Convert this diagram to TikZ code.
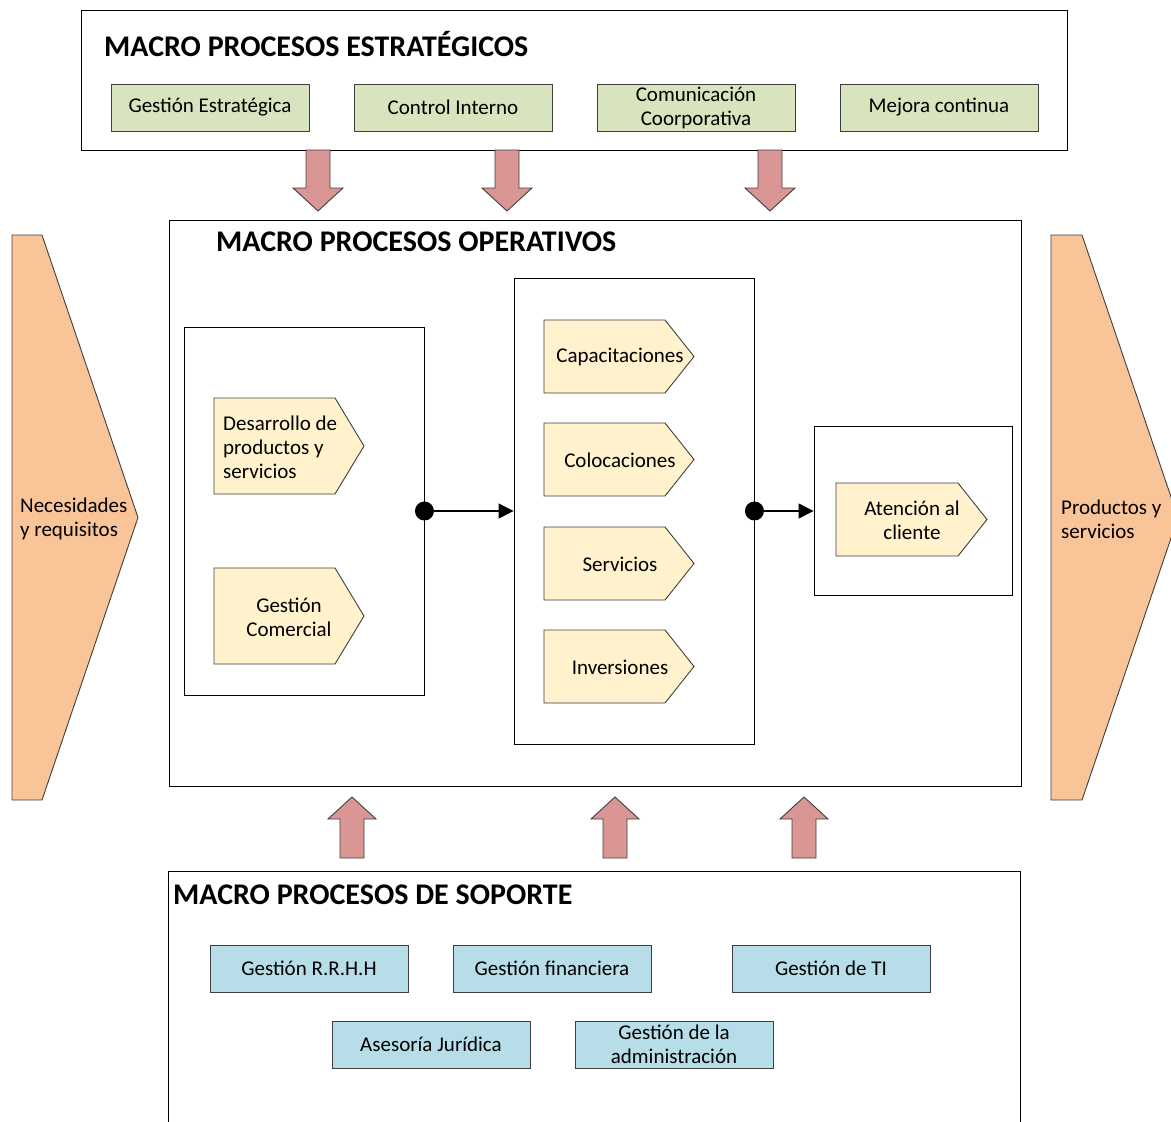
\documentclass[tikz,border=0pt]{standalone}
\usepackage{fontspec}
\setmainfont{Carlito}
\usetikzlibrary{arrows.meta}
\definecolor{boxgreen}{HTML}{D7E4BD}
\definecolor{boxblue}{HTML}{B7DEE8}
\definecolor{procyellow}{HTML}{FFF2CC}
\definecolor{flowred}{HTML}{D99694}
\definecolor{sideorange}{HTML}{FAC499}
\definecolor{edge}{HTML}{3F3F3F}
\tikzset{
  frame/.style={draw=black, line width=0.9pt, fill=white},
  title/.style={anchor=west, font=\fontsize{30}{36}\selectfont\bfseries, inner sep=0pt},
  label/.style={font=\fontsize{21}{24}\selectfont, inner sep=0pt, align=center},
  greenbox/.style={draw=edge, line width=0.9pt, fill=boxgreen, minimum width=198pt, minimum height=47pt, inner sep=0pt, align=center, font=\fontsize{21}{24}\selectfont},
  bluebox/.style={draw=edge, line width=0.9pt, fill=boxblue, minimum width=198pt, minimum height=47pt, inner sep=0pt, align=center, font=\fontsize{21}{24}\selectfont},
  chev/.style={draw=edge, line width=0.9pt, fill=procyellow},
  bigarrow/.style={draw=edge, line width=0.9pt, fill=flowred},
  side/.style={draw=edge, line width=0.9pt, fill=sideorange},
  group/.style={draw=black, line width=0.9pt, fill=white, inner sep=0pt},
  link/.style={line width=1.2pt, -{Triangle[length=15pt,width=15pt]}},
}
\begin{document}
\begin{tikzpicture}[x=1pt,y=-1pt]
\clip (0,0) rectangle (1171,1122);
\fill[white] (0,0) rectangle (1171,1122);

% side arrows: inputs and outputs
\draw[side] (12,235) -- (42,235) -- (138,517.5) -- (42,800) -- (12,800) -- cycle;
\draw[side] (1051,235) -- (1082,235) -- (1178,517.5) -- (1082,800) -- (1051,800) -- cycle;
\node[label, align=left, anchor=west] (nec) at (20,519) {Necesidades\\y requisitos};
\node[label, align=left, anchor=west] (prod) at (1061,519) {Productos y\\servicios};

% strategic processes
\draw[frame] (81,10) rectangle (1067,150);
\node[title] (tstrat) at (104,44) {MACRO PROCESOS ESTRATÉGICOS};
\node[greenbox] (g1) at (210,107.5) {Gestión Estratégica};
\node[greenbox] (g2) at (453,107.5) {Control Interno};
\node[greenbox] (g3) at (696,107.5) {Comunicación\\Coorporativa};
\node[greenbox] (g4) at (939,107.5) {Mejora continua};

% arrows down into the operative block
\foreach \c in {318,507,770}{
  \draw[bigarrow] (\c-12,150) -- (\c+12,150) -- (\c+12,188) -- (\c+25,188) -- (\c,211)
    -- (\c-25,188) -- (\c-12,188) -- cycle;
}

% operative processes
\draw[frame] (169,220) rectangle (1021,786);
\node[title] (toper) at (216,242) {MACRO PROCESOS OPERATIVOS};

\node[group, minimum width=240pt, minimum height=368pt] (grpA) at (304,511) {};
\node[group, minimum width=240pt, minimum height=466pt] (grpB) at (634,511) {};
\node[group, minimum width=198pt, minimum height=169pt] (grpC) at (913,511) {};

% first group
\draw[chev] (214,398) -- (335,398) -- (364,446) -- (335,494) -- (214,494) -- cycle;
\node[label, align=left, anchor=west] (des) at (223,447) {Desarrollo de\\productos y\\servicios};
\draw[chev] (214,568) -- (335,568) -- (364,616) -- (335,664) -- (214,664) -- cycle;
\node[label] (com) at (289,617) {Gestión\\Comercial};

% second group
\foreach \y/\n/\t in {320/cap/Capacitaciones, 423/col/Colocaciones, 527/ser/Servicios, 630/inv/Inversiones}{
  \draw[chev] (544,\y) -- (665,\y) -- (694,\y+36.5) -- (665,\y+73) -- (544,\y+73) -- cycle;
  \node[label] (\n) at (620,\y+37) {\t};
}

% third group
\draw[chev] (836,483) -- (958,483) -- (987,519.5) -- (958,556) -- (836,556) -- cycle;
\node[label] (aten) at (912,520) {Atención al\\cliente};

% flow between groups
\fill (grpA.east) circle (9.5pt);
\draw[link] (grpA.east) -- (grpB.west);
\fill (grpB.east) circle (9.5pt);
\draw[link] (grpB.east) -- (grpC.west);

% arrows up from the support block
\foreach \c in {352,615,804}{
  \draw[bigarrow] (\c-12,858) -- (\c+12,858) -- (\c+12,819) -- (\c+24,819) -- (\c,797)
    -- (\c-24,819) -- (\c-12,819) -- cycle;
}

% support processes
\draw[frame] (168,871) rectangle (1020,1140);
\node[title] (tsop) at (173,895) {MACRO PROCESOS DE SOPORTE};
\node[bluebox] (b1) at (309,968.5) {Gestión R.R.H.H};
\node[bluebox] (b2) at (552,968.5) {Gestión financiera};
\node[bluebox] (b3) at (831,968.5) {Gestión de TI};
\node[bluebox] (b4) at (431,1044.5) {Asesoría Jurídica};
\node[bluebox] (b5) at (674,1044.5) {Gestión de la\\administración};
\end{tikzpicture}
\end{document}
